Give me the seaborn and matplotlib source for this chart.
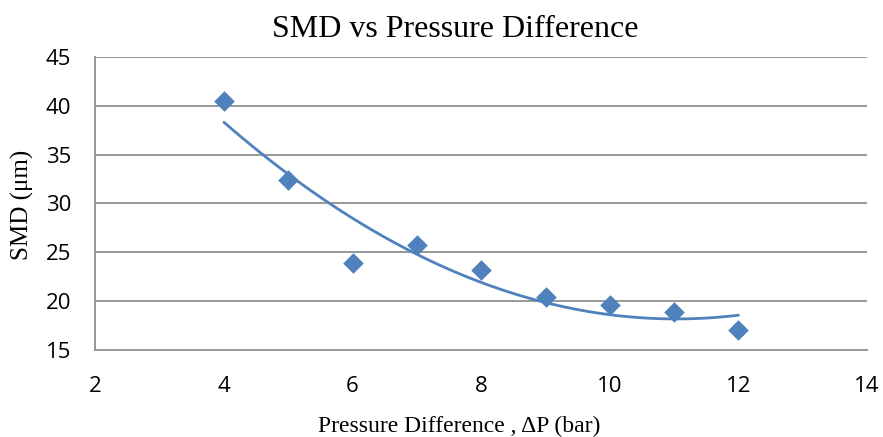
import matplotlib
matplotlib.use('Agg')
import matplotlib.pyplot as plt
import seaborn as sns
import pandas as pd

# values
pressure_diff = [4, 5, 6, 7, 8, 9, 10, 11, 12]
smd = [40.5, 32.4, 23.9, 25.7, 23.2, 20.4, 19.6, 18.9, 17.1]
x_ticks = [2, 4, 6, 8, 10, 12, 14]
y_ticks = [15, 20, 25, 30, 35, 40, 45]

df = pd.DataFrame({'dp': pressure_diff, 'smd': smd})

sns.set_style('white')
blue = '#4F81BD'
grid_col = '#989898'

fig = plt.figure(figsize=(8.83, 4.37), dpi=100)
ax = fig.add_axes([0.108, 0.199, 0.874, 0.671])

# 2nd order polynomial trendline, like Excel's
sns.regplot(data=df, x='dp', y='smd', order=2, ci=None, scatter=False,
            line_kws={'color': blue, 'lw': 2}, ax=ax)
sns.scatterplot(data=df, x='dp', y='smd', marker='D', s=110, color=blue,
                edgecolor=blue, linewidth=0, zorder=3, ax=ax)

ax.set_xlim(2, 14)
ax.set_ylim(15, 45)
ax.set_xticks(x_ticks)
ax.set_yticks(y_ticks)
ax.yaxis.grid(True, color=grid_col, lw=1.4)
ax.set_axisbelow(True)

for s in ['top', 'right']:
    ax.spines[s].set_visible(False)
for s in ['left', 'bottom']:
    ax.spines[s].set_color(grid_col)
    ax.spines[s].set_linewidth(1.4)

ax.tick_params(axis='both', direction='out', length=6, width=1.4,
               color=grid_col, labelsize=16, labelcolor='black')
ax.tick_params(axis='x', pad=13)
ax.tick_params(axis='y', pad=11.5)
for lbl in ax.get_xticklabels() + ax.get_yticklabels():
    lbl.set_fontfamily('Open Sans')

ax.set_xlabel('')
ax.set_ylabel('')
serif = 'Liberation Serif'
fig.text(455 / 883, 1 - 37 / 437, 'SMD vs Pressure Difference', fontsize=23,
         family=serif, color='black', ha='center', va='baseline')
fig.text(459 / 883, 1 - 432 / 437, 'Pressure Difference , \u0394P (bar)',
         fontsize=17, family=serif, color='black', ha='center', va='baseline')
fig.text(22 / 883, 1 - 205 / 437, 'SMD (\u03bcm)', fontsize=18, family=serif,
         color='black', rotation=90, rotation_mode='anchor',
         ha='center', va='center')

fig.savefig('out.png', dpi=100)
